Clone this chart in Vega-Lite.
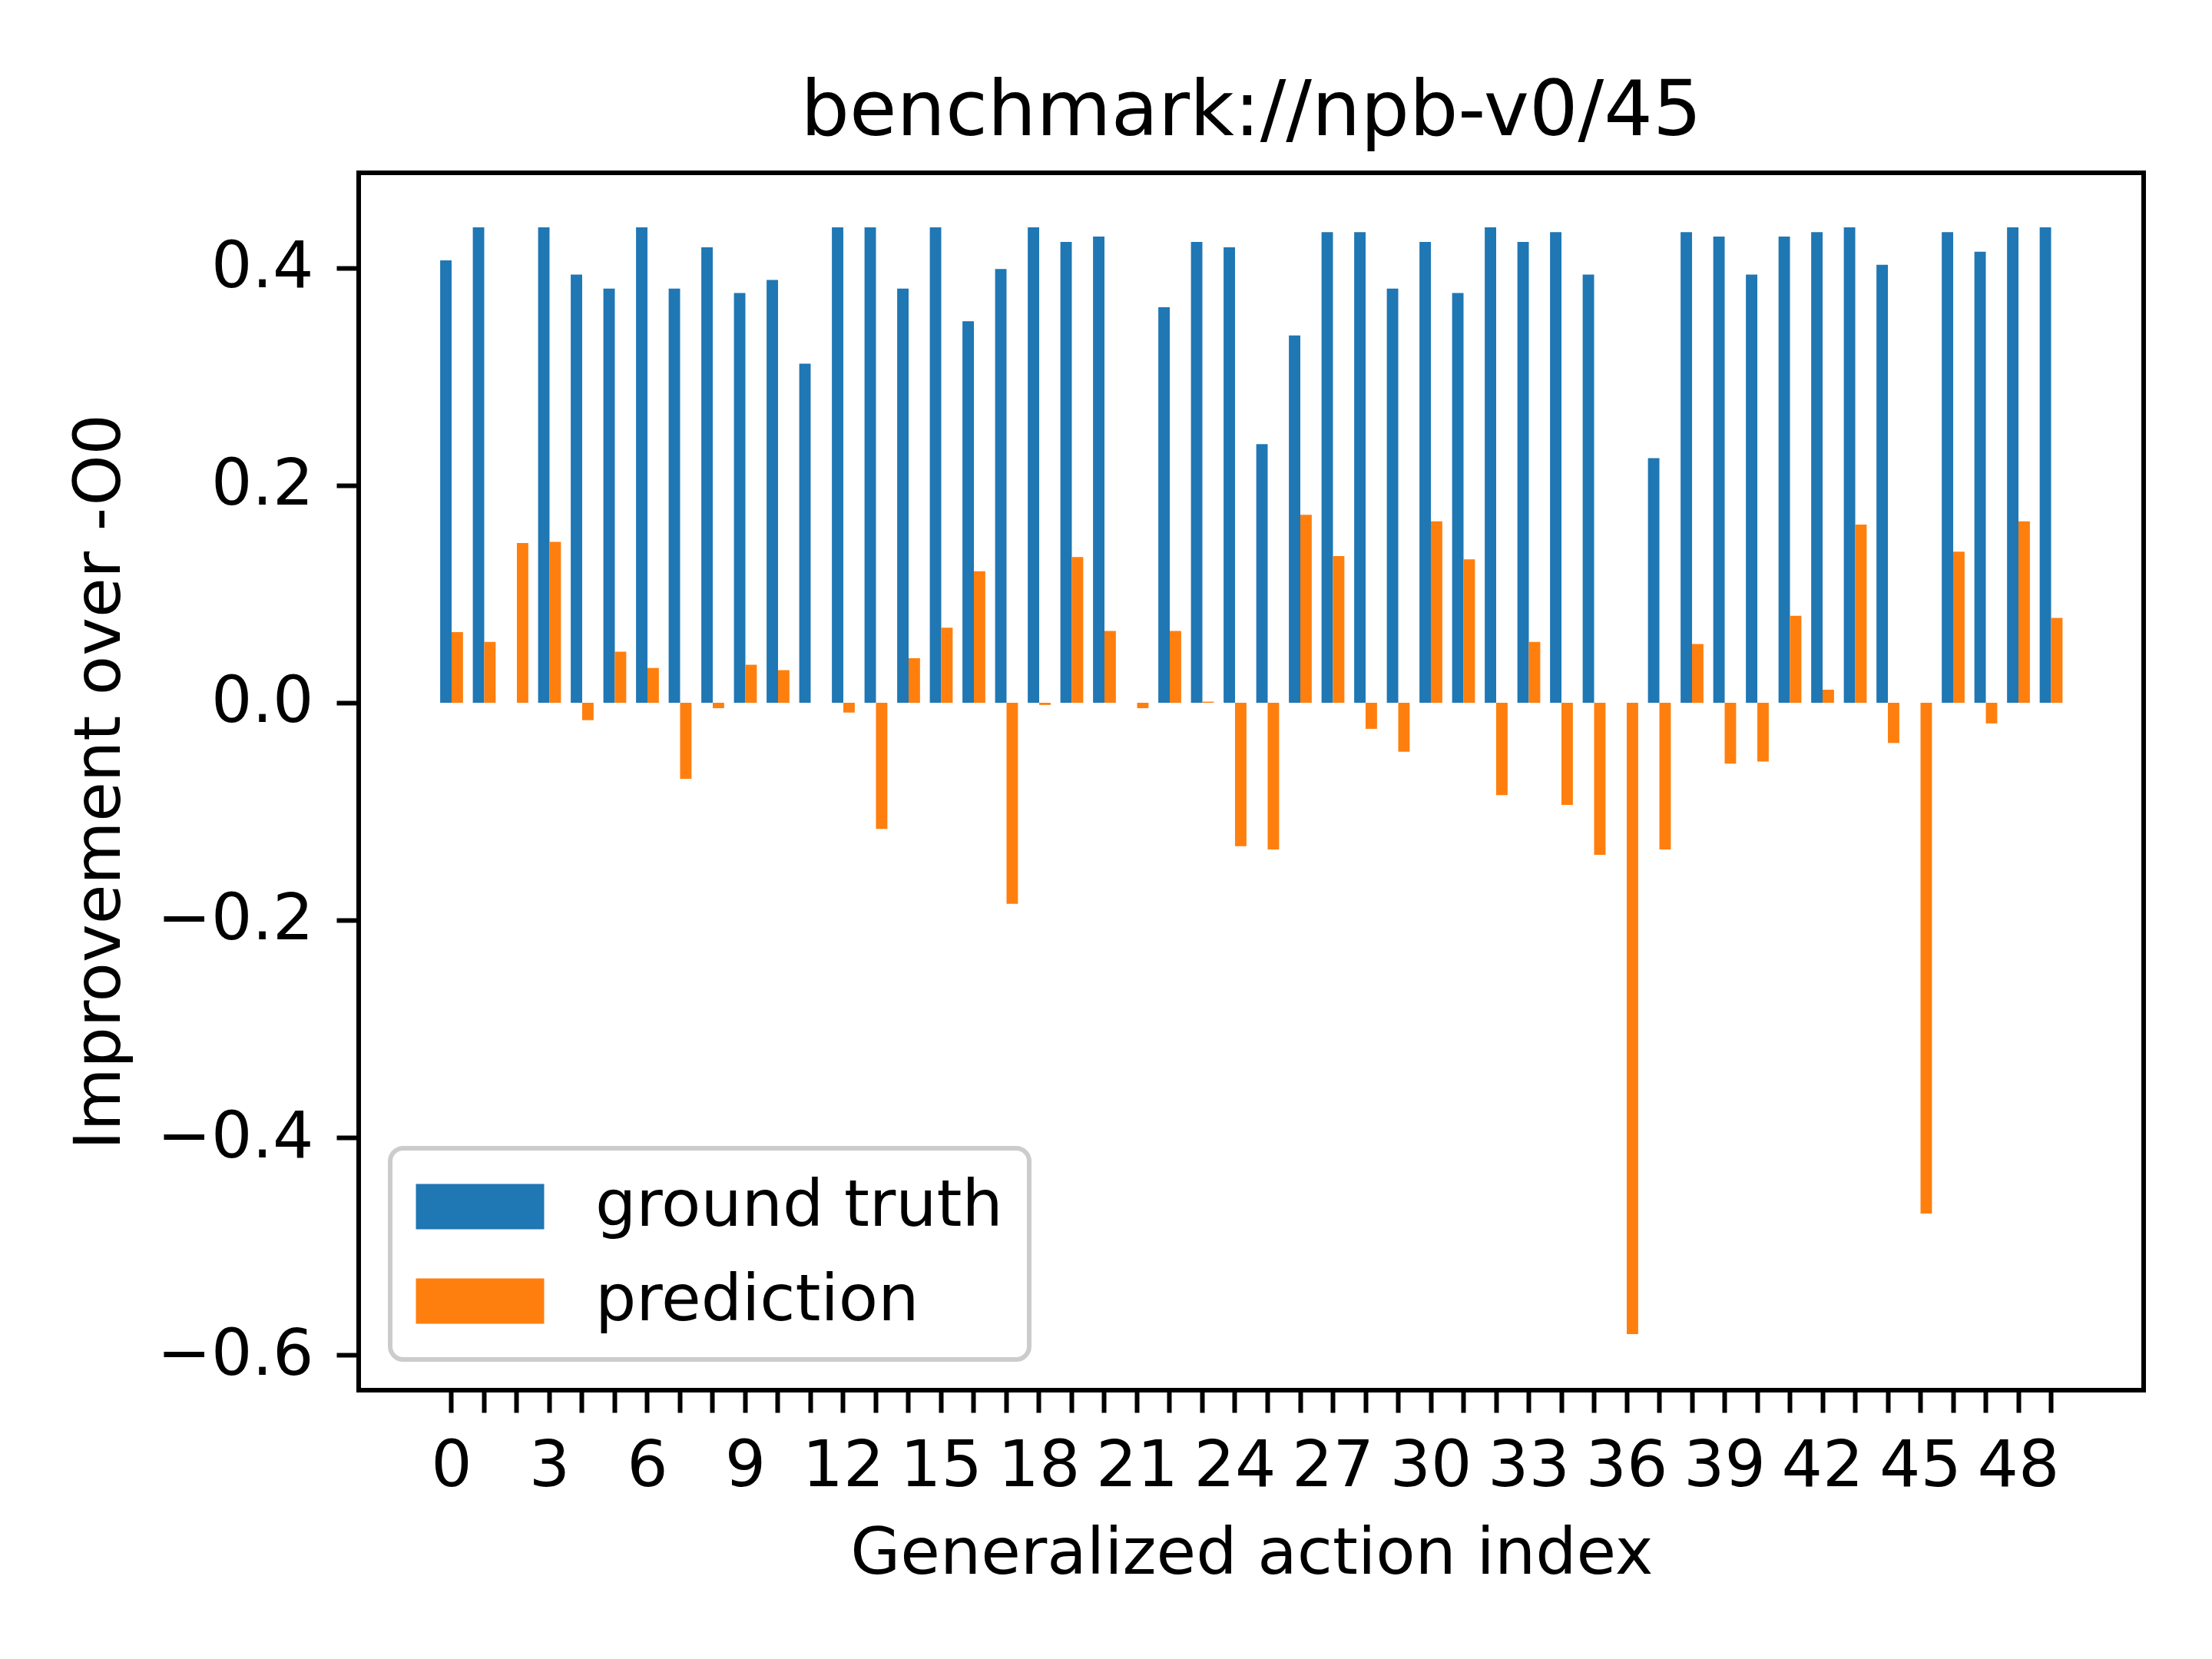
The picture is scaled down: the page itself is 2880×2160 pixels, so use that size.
{
  "$schema": "https://vega.github.io/schema/vega-lite/v6.json",
  "width": 2324,
  "height": 1585,
  "autosize": {"type": "none"},
  "padding": {"left": 467, "top": 225, "right": 89, "bottom": 350},
  "background": "white",
  "config": {
    "font": "DejaVu Sans",
    "view": {"stroke": "black", "strokeWidth": 6},
    "axis": {
      "domain": false,
      "grid": false,
      "tickColor": "black",
      "tickSize": 29,
      "tickWidth": 6,
      "labelFontSize": 84,
      "labelColor": "black",
      "labelLimit": 500,
      "titleFontSize": 84,
      "titleFontWeight": "normal",
      "titleColor": "black"
    },
    "legend": {
      "strokeColor": "#cccccc",
      "strokeWidth": 6,
      "fillColor": "rgba(255,255,255,0.8)",
      "cornerRadius": 17,
      "padding": 34
    }
  },
  "title": {
    "text": "benchmark://npb-v0/45",
    "fontSize": 100,
    "fontWeight": "normal",
    "color": "black",
    "frame": "group",
    "baseline": "bottom",
    "offset": 30,
    "dy": 102
  },
  "data": {
    "values": [
      {"i": 0, "ground truth": 0.407, "prediction": 0.065},
      {"i": 1, "ground truth": 0.4375, "prediction": 0.056},
      {"i": 2, "ground truth": 0, "prediction": 0.147},
      {"i": 3, "ground truth": 0.4375, "prediction": 0.148},
      {"i": 4, "ground truth": 0.394, "prediction": -0.016},
      {"i": 5, "ground truth": 0.381, "prediction": 0.047},
      {"i": 6, "ground truth": 0.4375, "prediction": 0.032},
      {"i": 7, "ground truth": 0.381, "prediction": -0.070},
      {"i": 8, "ground truth": 0.419, "prediction": -0.005},
      {"i": 9, "ground truth": 0.377, "prediction": 0.035},
      {"i": 10, "ground truth": 0.389, "prediction": 0.030},
      {"i": 11, "ground truth": 0.312, "prediction": 0},
      {"i": 12, "ground truth": 0.4375, "prediction": -0.009},
      {"i": 13, "ground truth": 0.4375, "prediction": -0.116},
      {"i": 14, "ground truth": 0.381, "prediction": 0.041},
      {"i": 15, "ground truth": 0.4375, "prediction": 0.069},
      {"i": 16, "ground truth": 0.351, "prediction": 0.121},
      {"i": 17, "ground truth": 0.399, "prediction": -0.185},
      {"i": 18, "ground truth": 0.4375, "prediction": -0.002},
      {"i": 19, "ground truth": 0.424, "prediction": 0.134},
      {"i": 20, "ground truth": 0.429, "prediction": 0.066},
      {"i": 21, "ground truth": 0, "prediction": -0.005},
      {"i": 22, "ground truth": 0.364, "prediction": 0.066},
      {"i": 23, "ground truth": 0.424, "prediction": 0.001},
      {"i": 24, "ground truth": 0.419, "prediction": -0.132},
      {"i": 25, "ground truth": 0.238, "prediction": -0.135},
      {"i": 26, "ground truth": 0.338, "prediction": 0.173},
      {"i": 27, "ground truth": 0.433, "prediction": 0.135},
      {"i": 28, "ground truth": 0.433, "prediction": -0.024},
      {"i": 29, "ground truth": 0.381, "prediction": -0.045},
      {"i": 30, "ground truth": 0.424, "prediction": 0.167},
      {"i": 31, "ground truth": 0.377, "prediction": 0.132},
      {"i": 32, "ground truth": 0.4375, "prediction": -0.085},
      {"i": 33, "ground truth": 0.424, "prediction": 0.056},
      {"i": 34, "ground truth": 0.433, "prediction": -0.094},
      {"i": 35, "ground truth": 0.394, "prediction": -0.140},
      {"i": 36, "ground truth": 0, "prediction": -0.581},
      {"i": 37, "ground truth": 0.225, "prediction": -0.135},
      {"i": 38, "ground truth": 0.433, "prediction": 0.054},
      {"i": 39, "ground truth": 0.429, "prediction": -0.056},
      {"i": 40, "ground truth": 0.394, "prediction": -0.054},
      {"i": 41, "ground truth": 0.429, "prediction": 0.080},
      {"i": 42, "ground truth": 0.433, "prediction": 0.012},
      {"i": 43, "ground truth": 0.4375, "prediction": 0.164},
      {"i": 44, "ground truth": 0.403, "prediction": -0.037},
      {"i": 45, "ground truth": 0, "prediction": -0.470},
      {"i": 46, "ground truth": 0.433, "prediction": 0.139},
      {"i": 47, "ground truth": 0.415, "prediction": -0.019},
      {"i": 48, "ground truth": 0.4375, "prediction": 0.167},
      {"i": 49, "ground truth": 0.4375, "prediction": 0.078}
    ]
  },
  "transform": [
    {"fold": ["ground truth", "prediction"], "as": ["series", "value"]}
  ],
  "mark": {"type": "bar"},
  "encoding": {
    "x": {
      "field": "i",
      "type": "ordinal",
      "scale": {"paddingInner": 0.3, "paddingOuter": 0, "range": [106.1, 2218.4]},
      "axis": {
        "title": "Generalized action index",
        "labelAngle": 0,
        "labelOverlap": false,
        "labelFlush": false,
        "labelPadding": 29,
        "titlePadding": 31,
        "labelExpr": "datum.value % 3 === 0 ? datum.label : ''"
      }
    },
    "xOffset": {"field": "series", "type": "nominal"},
    "y": {
      "field": "value",
      "type": "quantitative",
      "stack": null,
      "scale": {"domain": [-0.6325, 0.4876], "nice": false},
      "axis": {
        "title": "Improvement over -O0",
        "values": [-0.6, -0.4, -0.2, 0, 0.2, 0.4],
        "format": ".1f",
        "labelPadding": 30,
        "titlePadding": 94
      }
    },
    "color": {
      "field": "series",
      "type": "nominal",
      "scale": {"domain": ["ground truth", "prediction"], "range": ["#1f77b4", "#ff7f0e"]},
      "legend": {
        "title": null,
        "orient": "none",
        "legendX": 41,
        "legendY": 1270,
        "symbolType": "M-2.83,-1H2.83V1H-2.83Z",
        "symbolSize": 3481,
        "symbolStrokeWidth": 0,
        "symbolOffset": 41,
        "labelOffset": 108,
        "labelFontSize": 84,
        "labelColor": "black",
        "labelLimit": 0,
        "rowPadding": 39
      }
    }
  }
}
